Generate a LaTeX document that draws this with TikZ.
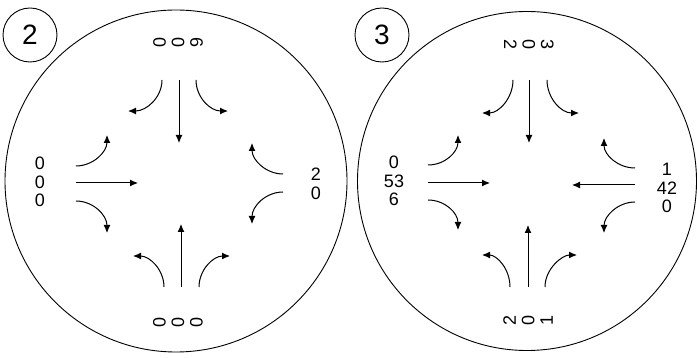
\documentclass[tikz,border=0pt]{standalone}
\usepackage{fontspec}
\setmainfont{Liberation Sans}
\usetikzlibrary{arrows.meta}
\begin{document}
\begin{tikzpicture}[x=1pt,y=-1pt,
  ring/.style={draw=black,line width=0.9pt},
  flow/.style={draw=black,line width=1pt,-{Latex[length=8pt,width=7pt]}},
  lab/.style={align=center,inner sep=0pt,font=\fontsize{18}{18.5}\selectfont},
  numlab/.style={circle,draw=black,line width=0.9pt,minimum size=54pt,inner sep=0pt,font=\fontsize{28}{30}\selectfont}]
\useasboundingbox (0,0) rectangle (697,358);
\fill[white] (0,0) rectangle (697,358);
% ---------- left diagram ----------
\node[ring,circle,minimum size=342pt,inner sep=0pt] (c2) at (176,181) {};
\node[numlab] (n2) at (30,35) {2};
\node[lab,rotate=-90] (t2) at (178,43) {6\\0\\0};
\node[lab,rotate=90] (b2) at (178,322) {0\\0\\0};
\node[lab] (l2) at (40,182) {0\\0\\0};
\node[lab] (r2) at (316,184) {2\\0};
% top
\coordinate (a2ts) at (179,80);  \coordinate (a2te) at (179,143);
\coordinate (a2tls) at (162,80); \coordinate (a2tle) at (128,111);
\coordinate (a2trs) at (196,80); \coordinate (a2tre) at (228,111);
\draw[flow] (a2ts) -- (a2te);
\draw[flow] (a2tls) .. controls (162,97) and (147,111) .. (a2tle);
\draw[flow] (a2trs) .. controls (196,97) and (210,111) .. (a2tre);
% left
\coordinate (a2ls) at (76,183);  \coordinate (a2le) at (138,183);
\coordinate (a2lus) at (76,166); \coordinate (a2lue) at (107,135);
\coordinate (a2lds) at (76,201); \coordinate (a2lde) at (107,233);
\draw[flow] (a2ls) -- (a2le);
\draw[flow] (a2lus) .. controls (93,166) and (107,152) .. (a2lue);
\draw[flow] (a2lds) .. controls (93,201) and (107,215) .. (a2lde);
% right
\coordinate (a2rus) at (283,174); \coordinate (a2rue) at (252,143);
\coordinate (a2rds) at (283,192); \coordinate (a2rde) at (252,224);
\draw[flow] (a2rus) .. controls (266,174) and (252,160) .. (a2rue);
\draw[flow] (a2rds) .. controls (266,192) and (252,206) .. (a2rde);
% bottom
\coordinate (a2bs) at (181,287);  \coordinate (a2be) at (181,224);
\coordinate (a2bls) at (164,287); \coordinate (a2ble) at (133,256);
\coordinate (a2brs) at (199,287); \coordinate (a2bre) at (230,256);
\draw[flow] (a2bs) -- (a2be);
\draw[flow] (a2bls) .. controls (164,270) and (150,256) .. (a2ble);
\draw[flow] (a2brs) .. controls (199,270) and (213,256) .. (a2bre);
% ---------- right diagram ----------
\node[ring,circle,minimum size=339pt,inner sep=0pt] (c3) at (527,181) {};
\node[numlab] (n3) at (382,35) {3};
\node[lab,rotate=-90] (t3) at (529,45) {3\\0\\2};
\node[lab,rotate=90] (b3) at (528,320) {2\\0\\1};
\node[lab] (l3) at (394,181) {0\\53\\6};
\node[lab] (r3) at (667,188) {1\\42\\0};
% top
\coordinate (a3ts) at (529,80);  \coordinate (a3te) at (529,143);
\coordinate (a3tls) at (513,80); \coordinate (a3tle) at (482,113);
\coordinate (a3trs) at (547,80); \coordinate (a3tre) at (579,113);
\draw[flow] (a3ts) -- (a3te);
\draw[flow] (a3tls) .. controls (513,98) and (499,113) .. (a3tle);
\draw[flow] (a3trs) .. controls (547,98) and (561,113) .. (a3tre);
% left
\coordinate (a3ls) at (428,183);  \coordinate (a3le) at (490,183);
\coordinate (a3lus) at (428,165); \coordinate (a3lue) at (458,135);
\coordinate (a3lds) at (428,200); \coordinate (a3lde) at (458,230);
\draw[flow] (a3ls) -- (a3le);
\draw[flow] (a3lus) .. controls (445,165) and (458,152) .. (a3lue);
\draw[flow] (a3lds) .. controls (445,200) and (458,213) .. (a3lde);
% right
\coordinate (a3rs) at (635,185);  \coordinate (a3re) at (572,185);
\coordinate (a3rus) at (635,168); \coordinate (a3rue) at (604,138);
\coordinate (a3rds) at (635,202); \coordinate (a3rde) at (604,233);
\draw[flow] (a3rs) -- (a3re);
\draw[flow] (a3rus) .. controls (618,168) and (604,155) .. (a3rue);
\draw[flow] (a3rds) .. controls (618,202) and (604,216) .. (a3rde);
% bottom
\coordinate (a3bs) at (528,287);  \coordinate (a3be) at (528,225);
\coordinate (a3bls) at (510,287); \coordinate (a3ble) at (482,255);
\coordinate (a3brs) at (545,287); \coordinate (a3bre) at (577,255);
\draw[flow] (a3bs) -- (a3be);
\draw[flow] (a3bls) .. controls (510,269) and (497,255) .. (a3ble);
\draw[flow] (a3brs) .. controls (545,269) and (562,255) .. (a3bre);
\end{tikzpicture}
\end{document}
